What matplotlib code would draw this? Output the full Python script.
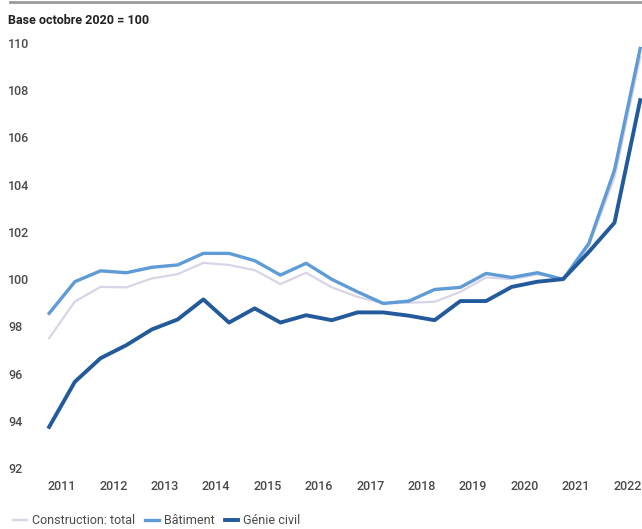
import matplotlib
matplotlib.use('Agg')
import matplotlib.pyplot as plt
from matplotlib.lines import Line2D

# semi-annual index values, 2011 H1 .. 2022 H2
years = ['2011', '2012', '2013', '2014', '2015', '2016',
         '2017', '2018', '2019', '2020', '2021', '2022']
total = [97.5, 99.05, 99.67, 99.65, 100.03, 100.21, 100.69, 100.6,
         100.38, 99.79, 100.27, 99.65, 99.25, 98.97, 99.0, 99.04,
         99.46, 100.07, 100.0, 100.2, 100.0, 101.4, 104.3, 109.4]
batiment = [98.55, 99.89, 100.35, 100.27, 100.5, 100.6, 101.09, 101.09,
            100.78, 100.17, 100.67, 99.99, 99.46, 98.97, 99.07, 99.56,
            99.65, 100.24, 100.07, 100.27, 99.99, 101.51, 104.62, 109.77]
genie = [93.74, 95.65, 96.65, 97.2, 97.87, 98.29, 99.14, 98.16,
         98.76, 98.16, 98.47, 98.26, 98.59, 98.59, 98.45, 98.26,
         99.07, 99.07, 99.67, 99.89, 100.0, 101.15, 102.39, 107.58]
yticks = [92, 94, 96, 98, 100, 102, 104, 106, 108, 110]

plt.rcParams['font.family'] = ['Roboto', 'DejaVu Sans']

W, H = 642, 529
fig = plt.figure(figsize=(W / 100, H / 100), dpi=100)
# axes placed in pixels
left, right, top, bottom = 44, 642, 43, 468
ax = fig.add_axes([left / W, 1 - bottom / H, (right - left) / W, (bottom - top) / H])

x = list(range(len(genie)))
ax.plot(x, total, color='#d8d5e8', lw=1.6, clip_on=False, label='Construction: total')
ax.plot(x, batiment, color='#5f9bd6', lw=2.4, clip_on=False, label='Bâtiment')
ax.plot(x, genie, color='#235a9c', lw=2.8, clip_on=False, label='Génie civil')

ax.set_xlim(-0.2, 23.07)
ax.set_ylim(92, 110)
for s in ax.spines.values():
    s.set_visible(False)

ax.set_yticks(yticks)
ax.set_yticklabels([str(v) for v in yticks])
ax.set_xticks([2 * i + 0.5 for i in range(len(years))])
ax.set_xticklabels(years)
ax.tick_params(axis='both', length=0, labelsize=9, labelcolor='#4a4a4a')
ax.tick_params(axis='y', pad=26)
ax.tick_params(axis='x', pad=9)
for lab in ax.get_yticklabels():
    lab.set_horizontalalignment('left')
    lab.set_fontweight('medium')
for lab in ax.get_xticklabels():
    lab.set_fontweight('medium')

fig.text(8 / W, 1 - 20 / H, 'Base octobre 2020 = 100', fontsize=9,
         fontweight='bold', color='#222222', va='center', ha='left')
fig.add_artist(Line2D([10 / W, 1], [1 - 2 / H, 1 - 2 / H], color='#9a9a9a', lw=2))

leg = fig.legend(loc='center left', bbox_to_anchor=(2 / W, 1 - 521 / H), ncol=3,
                 frameon=False, fontsize=9, handlelength=1.1, handletextpad=0.4,
                 columnspacing=0.8, labelcolor='#4a4a4a')

fig.savefig('out.png', dpi=100)
